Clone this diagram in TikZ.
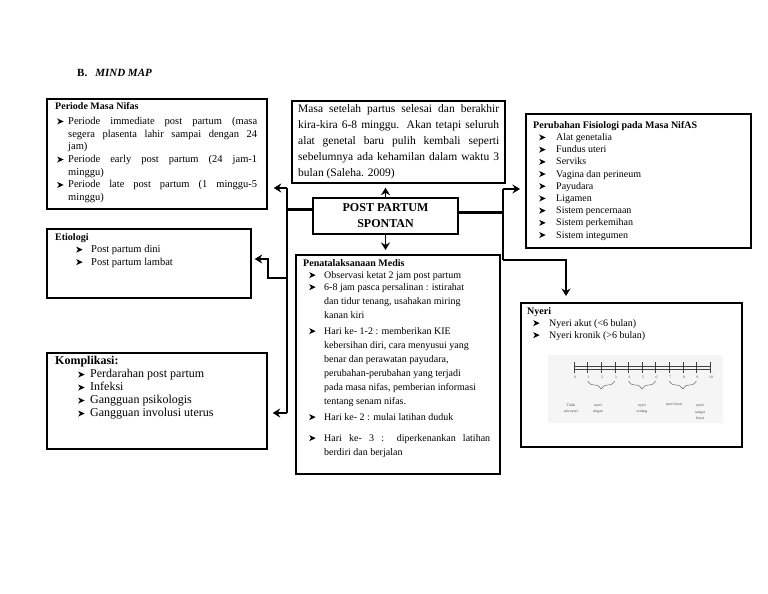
\documentclass[tikz,border=0pt]{standalone}
\usepackage{fontspec}
\setmainfont{Liberation Serif}
\usetikzlibrary{arrows.meta,decorations.pathreplacing}
\newcommand{\bul}{\tikz[baseline=0pt]{\fill[black] (0pt,0pt) -- (6.5pt,3pt) -- (0pt,6pt) -- (1.8pt,3pt) -- cycle;}}
\newcommand{\bx}[1]{\makebox[#1][l]{\bul}}
\begin{document}
\begin{tikzpicture}[x=1pt,y=-1pt,
  frame/.style={draw, line width=1.7pt, inner sep=0pt, anchor=north west},
  txt/.style={anchor=north west, inner sep=0pt, align=left},
  conn/.style={line width=1.6pt},
  arr/.style={conn, -{Stealth[length=7.5pt,width=9pt,inset=2.5pt]}},
  thk/.style={line width=3pt},
  tiny/.style={inner sep=0pt, text=black!70, font=\fontsize{3.8}{6.5}\selectfont, align=center}
]
\useasboundingbox (0,0) rectangle (768,594);

% title
\node[txt, font=\fontsize{11}{13}\selectfont] (title) at (77,69) {\textbf{B.}\hspace{8pt}\textbf{\textit{MIND MAP}}};

% Periode
\node[frame, minimum width=220pt, minimum height=110pt] (peri) at (46,98) {};
\node[txt, font=\fontsize{10.5}{12.7}\selectfont] (peritxt) at (55,102) {%
{\fontsize{10}{12.7}\selectfont\textbf{Periode Masa Nifas}}\\[2.5pt]
\hspace*{2pt}\bx{11pt}\makebox[189pt][s]{Periode immediate post partum (masa}\\
\hspace*{13pt}\makebox[189pt][s]{segera plasenta lahir sampai dengan 24}\\
\hspace*{13pt}jam)\\
\hspace*{2pt}\bx{11pt}\makebox[189pt][s]{Periode early post partum (24 jam-1}\\
\hspace*{13pt}minggu)\\
\hspace*{2pt}\bx{11pt}\makebox[189pt][s]{Periode late post partum (1 minggu-5}\\
\hspace*{13pt}minggu)};

% Masa
\node[txt, font=\fontsize{11.5}{16}\selectfont] (masatxt) at (298,104) {%
\makebox[201pt][s]{Masa setelah partus selesai dan berakhir}\\
\makebox[201pt][s]{kira-kira 6-8 minggu. Akan tetapi seluruh}\\
\makebox[201pt][s]{alat genetal baru pulih kembali seperti}\\
\makebox[201pt][s]{sebelumnya ada kehamilan dalam waktu 3}\\
bulan (Saleha. 2009)};
\node[frame, minimum width=213pt, minimum height=82pt] (masa) at (291,100) {};

% Perubahan
\node[frame, minimum width=225pt, minimum height=134pt] (peru) at (525,113) {};
\node[txt, font=\fontsize{10}{12.2}\selectfont] (perutxt) at (533,121) {%
\textbf{Perubahan Fisiologi pada Masa NifAS}\\
\hspace*{6pt}\bx{17pt}Alat genetalia\\
\hspace*{6pt}\bx{17pt}Fundus uteri\\
\hspace*{6pt}\bx{17pt}Serviks\\
\hspace*{6pt}\bx{17pt}Vagina dan perineum\\
\hspace*{6pt}\bx{17pt}Payudara\\
\hspace*{6pt}\bx{17pt}Ligamen\\
\hspace*{6pt}\bx{17pt}Sistem pencernaan\\
\hspace*{6pt}\bx{17pt}Sistem perkemihan\\
\hspace*{6pt}\bx{17pt}Sistem integumen};

% Etiologi
\node[frame, minimum width=204pt, minimum height=69pt] (etio) at (46,228) {};
\node[txt, font=\fontsize{10.5}{12.5}\selectfont] (etiotxt) at (55,233) {%
{\fontsize{10}{12.5}\selectfont\textbf{Etiologi}}\\
\hspace*{21pt}\bx{15pt}Post partum dini\\
\hspace*{21pt}\bx{15pt}Post partum lambat};

% Komplikasi
\node[frame, minimum width=220pt, minimum height=96pt] (komp) at (46,352) {};
\node[txt, font=\fontsize{12}{13}\selectfont] (komptxt) at (55,356) {%
\textbf{Komplikasi:}\\
\hspace*{23pt}\bx{12pt}Perdarahan post partum\\
\hspace*{23pt}\bx{12pt}Infeksi\\
\hspace*{23pt}\bx{12pt}Gangguan psikologis\\
\hspace*{23pt}\bx{12pt}Gangguan involusi uterus};

% Post partum
\node[frame, anchor=center, minimum width=145pt, minimum height=36pt, align=center,
  font=\bfseries\fontsize{12}{16}\selectfont] (post) at (385.5,216) {POST PARTUM\\SPONTAN};

% Penatalaksanaan
\node[frame, minimum width=204pt, minimum height=219pt] (pena) at (295,254) {};
\node[txt, font=\fontsize{10}{14}\selectfont] (penatxt) at (303,259) {%
\textbf{Penatalaksanaan Medis}\\[-2pt]
\hspace*{6pt}\bx{15pt}Observasi ketat 2 jam post partum\\[-2pt]
\hspace*{6pt}\bx{15pt}6-8 jam pasca persalinan : istirahat\\
\hspace*{21pt}dan tidur tenang, usahakan miring\\
\hspace*{21pt}kanan kiri\\[2pt]
\hspace*{6pt}\bx{15pt}Hari ke- 1-2 : memberikan KIE\\
\hspace*{21pt}kebersihan diri, cara menyusui yang\\
\hspace*{21pt}benar dan perawatan payudara,\\
\hspace*{21pt}perubahan-perubahan yang terjadi\\
\hspace*{21pt}pada masa nifas, pemberian informasi\\
\hspace*{21pt}tentang senam nifas.\\[2pt]
\hspace*{6pt}\bx{15pt}Hari ke- 2 : mulai latihan duduk\\[7pt]
\hspace*{6pt}\bx{15pt}\makebox[166pt][s]{Hari ke- 3 : diperkenankan latihan}\\
\hspace*{21pt}berdiri dan berjalan};

% Nyeri
\node[frame, minimum width=221pt, minimum height=144pt] (nyeri) at (520,302) {};
\node[txt, font=\fontsize{10}{12}\selectfont] (nyeritxt) at (527,307) {%
\textbf{Nyeri}\\
\hspace*{6pt}\bx{16pt}Nyeri akut (<6 bulan)\\
\hspace*{6pt}\bx{16pt}Nyeri kronik (>6 bulan)};

% pain scale
\fill[black!4] (548,355) rectangle (723,423);
\draw[black!75, line width=0.4pt] (574,366.5) -- (710,366.5) (574,368.7) -- (710,368.7);
\foreach \i in {0,...,10}{
  \draw[black!75, line width=0.4pt] (574+13.6*\i,362) -- (574+13.6*\i,373);
  \node[tiny] at (575+13.6*\i,377.5) {\i};
}
\foreach \a/\b in {1/3,4/6,7/9}{
  \draw[black!70, line width=0.4pt, decorate, decoration={brace, mirror, amplitude=8pt}]
    (574+13.6*\a,381) -- (574+13.6*\b,381);
}
\node[tiny] (s0) at (571,408.5) {Tidak\\ ada nyeri};
\node[tiny] (s1) at (598,408.5) {nyeri\\ ringan};
\node[tiny] (s2) at (642,408.5) {nyeri\\ sedang};
\node[tiny] (s3) at (674,405) {nyeri berat};
\node[tiny] (s4) at (700,412) {nyeri\\ sangat\\ berat};

% connectors
\coordinate (lj) at (287,209);
\coordinate (lt) at (287,188);
\coordinate (le) at (287,278);
\coordinate (ec) at (268,278);
\coordinate (et) at (268,259);
\coordinate (lk) at (287,413);
\coordinate (rj) at (503,212);
\coordinate (rt) at (503,189);
\coordinate (rb) at (503,260);
\coordinate (rn) at (566,260);

\draw[thk] (post.west |- lj) -- (lj);
\draw[conn] (lt) -- (lk);
\draw[arr] (lt) -- ([xshift=6pt]peri.east |- lt);
\draw[arr] (le) -- (ec) -- (et) -- ([xshift=3pt]etio.east |- et);
\draw[arr] (lk) -- ([xshift=5pt]komp.east |- lk);
\draw[thk] (post.east |- rj) -- (rj);
\draw[conn] (rt) -- (rb);
\draw[arr] (rt) -- ([xshift=-5pt]peru.west |- rt);
\draw[arr] (rb) -- (rn) -- ([yshift=6pt]nyeri.north -| rn);
\draw[arr] (post.north) -- ([yshift=-4pt]masa.south -| post.north);
\draw[arr] (post.south) -- ([yshift=4pt]pena.north -| post.south);
\end{tikzpicture}
\end{document}
